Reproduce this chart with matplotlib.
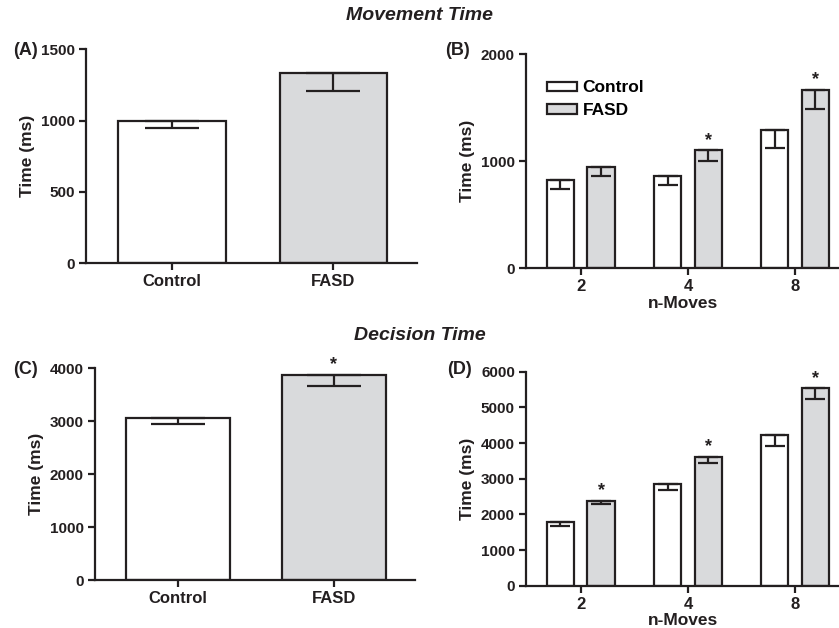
import numpy as np
import matplotlib
matplotlib.use('Agg')
import matplotlib.pyplot as plt
from matplotlib.patches import Patch

# data (means and SE, ms)
groups = ['Control', 'FASD']
moves = ['2', '4', '8']

mt_mean = [1000, 1336]
mt_se = [50, 130]
mt_sig = [False, False]

mt_ctrl = [822, 865, 1295]
mt_ctrl_se = [80, 90, 175]
mt_fasd = [950, 1103, 1669]
mt_fasd_se = [88, 103, 183]
mt_fasd_sig = [False, True, True]

dt_mean = [3062, 3880]
dt_se = [115, 220]
dt_sig = [False, True]

dt_ctrl = [1778, 2851, 4225]
dt_ctrl_se = [100, 170, 300]
dt_fasd = [2383, 3617, 5534]
dt_fasd_se = [90, 190, 310]
dt_fasd_sig = [True, True, True]

ink = '#231f20'
gray = '#d9dadc'
plt.rcParams['font.family'] = ['Liberation Sans', 'DejaVu Sans']
plt.rcParams['font.weight'] = 'bold'

fig = plt.figure(figsize=(8.39, 6.28), dpi=100)

def style(ax, ymax, step):
    for s in ['top', 'right']:
        ax.spines[s].set_visible(False)
    for s in ['left', 'bottom']:
        ax.spines[s].set_linewidth(1.6)
        ax.spines[s].set_color(ink)
    ax.set_ylim(0, ymax)
    ax.set_yticks(np.arange(0, ymax + 1, step))
    ax.tick_params(width=1.6, length=5, color=ink, labelcolor=ink, pad=3)
    ax.tick_params(axis='y', labelsize=11)
    ax.tick_params(axis='x', labelsize=12)
    ax.set_ylabel('Time (ms)', fontweight='bold', fontsize=12.5, color=ink)

def star(ax, x, top):
    ax.annotate('*', (x, top), xytext=(0, 1), textcoords='offset points',
                ha='center', va='bottom', fontsize=13, fontweight='bold', color=ink)

def single(rect, means, ses, sig, ymax, step):
    ax = fig.add_axes(rect)
    x = np.arange(len(groups))
    ax.bar(x, means, width=0.665, color=['white', gray], edgecolor=ink, linewidth=1.6)
    ax.errorbar(x, means, yerr=[ses, np.zeros(len(ses))], fmt='none', ecolor=ink,
                elinewidth=1.6, capsize=19.5, capthick=1.6)
    for i in range(len(x)):
        if sig[i]:
            star(ax, x[i], means[i])
    ax.set_xlim(-0.534, 1.52)
    ax.set_xticks(x)
    ax.set_xticklabels(groups)
    style(ax, ymax, step)
    return ax

def grouped(rect, ctrl, ctrl_se, fasd, fasd_se, sig, ymax, step, legend=False):
    ax = fig.add_axes(rect)
    x = np.arange(len(moves))
    w = 0.255
    off = 0.19
    ax.bar(x - off, ctrl, width=w, color='white', edgecolor=ink, linewidth=1.6)
    ax.bar(x + off, fasd, width=w, color=gray, edgecolor=ink, linewidth=1.6)
    ax.errorbar(x - off, ctrl, yerr=[ctrl_se, np.zeros(3)], fmt='none', ecolor=ink,
                elinewidth=1.6, capsize=7.2, capthick=1.6)
    ax.errorbar(x + off, fasd, yerr=[fasd_se, np.zeros(3)], fmt='none', ecolor=ink,
                elinewidth=1.6, capsize=7.2, capthick=1.6)
    for i in range(3):
        if sig[i]:
            star(ax, x[i] + off, fasd[i])
    ax.set_xlim(-0.51, 2.41)
    ax.set_xticks(x)
    ax.set_xticklabels(moves)
    ax.set_xlabel('n-Moves', fontweight='bold', fontsize=12.5, color=ink, labelpad=1)
    style(ax, ymax, step)
    if legend:
        handles = [Patch(facecolor='white', edgecolor=ink, linewidth=1.6, label='Control'),
                   Patch(facecolor=gray, edgecolor=ink, linewidth=1.6, label='FASD')]
        ax.legend(handles=handles, loc='upper left', bbox_to_anchor=(0.067, 0.878),
                  frameon=False, borderpad=0, borderaxespad=0,
                  handlelength=1.75, handleheight=0.45,
                  handletextpad=0.3, labelspacing=0.45,
                  prop={'weight': 'bold', 'size': 12.5})
    return ax

axA = single([0.1025, 0.5807, 0.3945, 0.3408], mt_mean, mt_se, mt_sig, 1500, 500)
axB = grouped([0.627, 0.5728, 0.373, 0.3407], mt_ctrl, mt_ctrl_se, mt_fasd, mt_fasd_se,
              mt_fasd_sig, 2000, 1000, legend=True)
axC = single([0.1132, 0.0764, 0.3814, 0.3371], dt_mean, dt_se, dt_sig, 4000, 1000)
axD = grouped([0.627, 0.0674, 0.373, 0.3407], dt_ctrl, dt_ctrl_se, dt_fasd, dt_fasd_se,
              dt_fasd_sig, 6000, 1000)

fig.text(0.5, 0.975, 'Movement Time', ha='center', va='center', fontsize=14,
         fontweight='bold', fontstyle='italic', color=ink)
fig.text(0.5, 0.466, 'Decision Time', ha='center', va='center', fontsize=14,
         fontweight='bold', fontstyle='italic', color=ink)
for lbl, x, y in [('(A)', 0.0155, 0.92), ('(B)', 0.530, 0.92),
                  ('(C)', 0.0155, 0.412), ('(D)', 0.533, 0.412)]:
    fig.text(x, y, lbl, ha='left', va='center', fontsize=13, fontweight='bold', color=ink)

fig.savefig('out.png', dpi=100)
